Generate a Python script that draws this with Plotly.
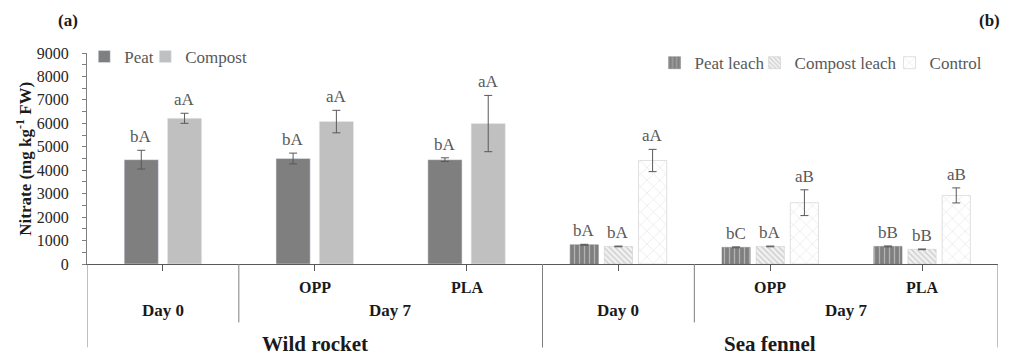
import plotly.graph_objects as go

# ---------------- data ----------------
cat_index = [0, 1, 2, 3, 4, 5]
species = ["Wild rocket", "Wild rocket", "Wild rocket", "Sea fennel", "Sea fennel", "Sea fennel"]
days = ["Day 0", "Day 7", "Day 7", "Day 0", "Day 7", "Day 7"]
packs = ["", "OPP", "PLA", "", "OPP", "PLA"]

wr_x = [0, 1, 2]
sf_x = [3, 4, 5]

wr_peat = [4450, 4500, 4450]
wr_peat_err = [400, 230, 80]
wr_peat_lbl = ["bA", "bA", "bA"]
wr_comp = [6215, 6075, 5990]
wr_comp_err = [215, 480, 1200]
wr_comp_lbl = ["aA", "aA", "aA"]

sf_peat = [820, 710, 750]
sf_peat_err = [20, 20, 20]
sf_peat_lbl = ["bA", "bC", "bB"]
sf_comp = [750, 750, 625]
sf_comp_err = [15, 15, 15]
sf_comp_lbl = ["bA", "bA", "bB"]
sf_ctrl = [4415, 2615, 2925]
sf_ctrl_err = [475, 550, 320]
sf_ctrl_lbl = ["aA", "aB", "aB"]

y_ticks = [0, 1000, 2000, 3000, 4000, 5000, 6000, 7000, 8000, 9000]

# ---------------- styles ----------------
SERIF = "Liberation Serif"
LBL_COLOR = "#595959"
ERR = dict(type="data", color="#595959", thickness=1, width=4)

fig = go.Figure()

series = [
    dict(name="Peat", x=wr_x, y=wr_peat, err=wr_peat_err, lbl=wr_peat_lbl, offset=-0.255, width=0.225,
         marker=dict(color="#7f7f7f"), legend="legend", lw=16),
    dict(name="Compost", x=wr_x, y=wr_comp, err=wr_comp_err, lbl=wr_comp_lbl, offset=0.03, width=0.225,
         marker=dict(color="#c0c0c0"), legend="legend", lw=70),
    dict(name="Peat leach", x=sf_x, y=sf_peat, err=sf_peat_err, lbl=sf_peat_lbl, offset=-0.318, width=0.186,
         marker=dict(color="#7f7f7f", line=dict(color="#7f7f7f", width=0.5),
                     pattern=dict(shape="|", fgcolor="#e8e8e8", size=5, solidity=0.25, fillmode="overlay")),
         legend="legend2", lw=55),
    dict(name="Compost leach", x=sf_x, y=sf_comp, err=sf_comp_err, lbl=sf_comp_lbl, offset=-0.093, width=0.186,
         marker=dict(color="#f2f2f2", line=dict(color="#c8c8c8", width=0.5),
                     pattern=dict(shape="\\", fgcolor="#a6a6a6", size=4, solidity=0.35, fillmode="overlay")),
         legend="legend2", lw=90),
    dict(name="Control", x=sf_x, y=sf_ctrl, err=sf_ctrl_err, lbl=sf_ctrl_lbl, offset=0.132, width=0.186,
         marker=dict(color="#ffffff", line=dict(color="#e0e0e0", width=1),
                     pattern=dict(shape="x", fgcolor="#cccccc", size=9, solidity=0.14, fillmode="overlay")),
         legend="legend2", lw=60),
]

annotations = []
for s in series:
    fig.add_trace(go.Bar(
        x=s["x"], y=s["y"], name=s["name"], offset=s["offset"], width=s["width"],
        marker=s["marker"], error_y=dict(array=s["err"], **ERR),
        legend=s["legend"], legendwidth=s["lw"], showlegend=True,
    ))
    for xi, v, e, t in zip(s["x"], s["y"], s["err"], s["lbl"]):
        annotations.append(dict(
            x=xi + s["offset"] + s["width"] / 2, y=v + e, xref="x", yref="y",
            text=t, showarrow=False, yanchor="bottom", yshift=2,
            font=dict(family=SERIF, size=17, color=LBL_COLOR),
        ))

# ---------------- hierarchical category axis ----------------
shapes = []
SEP = dict(color="#7f7f7f", width=1)


def runs(level, idx):
    """Contiguous runs of equal labels within the index list idx."""
    out = []
    st = idx[0]
    for k in range(1, len(idx) + 1):
        if k == len(idx) or level[idx[k]] != level[st]:
            out.append((st, idx[k - 1], level[st]))
            if k < len(idx):
                st = idx[k]
    return out


sp_groups = runs(species, cat_index)
for a, b, name in sp_groups:
    annotations.append(dict(x=(cat_index[a] + cat_index[b]) / 2, y=-0.378, xref="x", yref="paper",
                            text="<b>%s</b>" % name, showarrow=False, xanchor="center", yanchor="middle",
                            font=dict(family=SERIF, size=21, color="#1a1a1a")))
    for edge in (cat_index[a] - 0.5, cat_index[b] + 0.5):
        shapes.append(dict(type="line", xref="x", yref="paper", x0=edge, x1=edge, y0=0, y1=-0.395, line=SEP))

sp_starts = [g[0] for g in sp_groups]
for a, b, _ in sp_groups:
    for da, db, name in runs(days, list(range(a, b + 1))):
        annotations.append(dict(x=(cat_index[da] + cat_index[db]) / 2, y=-0.222, xref="x", yref="paper",
                                text="<b>%s</b>" % name, showarrow=False, xanchor="center", yanchor="middle",
                                font=dict(family=SERIF, size=17, color="#1a1a1a")))
        if da not in sp_starts:
            edge = cat_index[da] - 0.5
            shapes.append(dict(type="line", xref="x", yref="paper", x0=edge, x1=edge, y0=0, y1=-0.277, line=SEP))

for xi, p in zip(cat_index, packs):
    if p:
        annotations.append(dict(x=xi, y=-0.11, xref="x", yref="paper",
                                text="<b>%s</b>" % p, showarrow=False, xanchor="center", yanchor="middle",
                                font=dict(family=SERIF, size=16, color="#1a1a1a")))

# y-axis title and panel tags
annotations.append(dict(x=-0.07, y=0.5, xref="paper", yref="paper", textangle=-90,
                        text="<b>Nitrate (mg kg<sup>-1</sup> FW)</b>", showarrow=False,
                        xanchor="center", yanchor="middle",
                        font=dict(family=SERIF, size=17, color="#1a1a1a")))
annotations.append(dict(x=-0.021, y=1.153, xref="paper", yref="paper", text="<b>(a)</b>",
                        showarrow=False, xanchor="center", yanchor="middle",
                        font=dict(family=SERIF, size=17, color="#1a1a1a")))
annotations.append(dict(x=0.991, y=1.153, xref="paper", yref="paper", text="<b>(b)</b>",
                        showarrow=False, xanchor="center", yanchor="middle",
                        font=dict(family=SERIF, size=17, color="#1a1a1a")))

fig.update_layout(
    width=1011, height=356,
    margin=dict(l=87, r=13, t=53, b=92, autoexpand=False),
    paper_bgcolor="white", plot_bgcolor="white",
    barmode="overlay",
    showlegend=True,
    legend=dict(orientation="h", x=-0.003, y=0.981, xanchor="left", yanchor="middle",
                font=dict(family=SERIF, size=17, color=LBL_COLOR), bgcolor="rgba(0,0,0,0)",
                itemwidth=30, traceorder="normal"),
    legend2=dict(orientation="h", x=0.623, y=0.952, xanchor="left", yanchor="middle",
                 font=dict(family=SERIF, size=17, color=LBL_COLOR), bgcolor="rgba(0,0,0,0)",
                 itemwidth=30, traceorder="normal"),
    xaxis=dict(range=[-0.5, 5.5], tickvals=cat_index, showticklabels=False, ticks="outside",
               ticklen=6, tickcolor="#595959", showline=True, linecolor="#595959", linewidth=1,
               showgrid=False, zeroline=False, fixedrange=True),
    yaxis=dict(range=[0, 9000], tickvals=y_ticks, ticks="outside", ticklen=4, tickcolor="#808080",
               showline=True, linecolor="#808080", linewidth=1, showgrid=False, zeroline=False,
               tickfont=dict(family=SERIF, size=16, color="#262626"), ticklabelstandoff=10,
               fixedrange=True,
               minor=dict(dtick=500, tick0=0, ticks="outside", ticklen=4, tickcolor="#808080", showgrid=False)),
    annotations=annotations,
    shapes=shapes,
    font=dict(family=SERIF),
)

fig.write_html(
    "out.html",
    config={"displayModeBar": False},
    post_script="document.body.style.margin='0';document.body.style.overflow='hidden';",
)
